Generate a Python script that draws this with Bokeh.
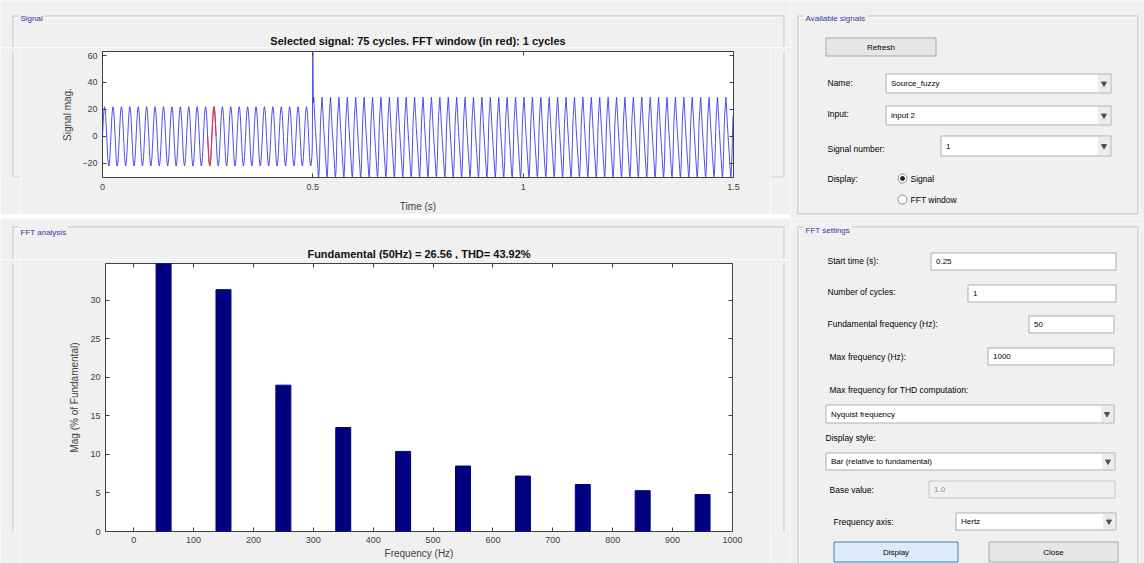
import numpy as np
from bokeh.plotting import figure
from bokeh.models import (Range1d, LinearAxis, FixedTicker, NumeralTickFormatter,
                          ColumnDataSource)
from bokeh.layouts import row, column
from bokeh.embed import file_html
from bokeh.resources import INLINE
from bokeh.core.properties import value

# ---------------- data ----------------
# one 50 Hz cycle (20 ms) of the signal before the step, equally spaced samples
pre_cycle = [0, 8.4, 15.6, 20.3, 22, 20.3, 15.6, 8.4, 0, -8.4, -15.6, -20.3, -22, -20.3, -15.6, -8.4]
pre_cycles = 25
fault_spike = 62
# one cycle of the distorted signal after 0.5 s (slow fall, steep rise)
post_cycle = [20, 25, 29, 24, 18, 12, 6, 1, -4, -9, -14, -19, -24, -29, -30, -26, -18, -5, 8, 15]
post_cycles = 50
cycle_period = 0.02
fft_window = (0.25, 0.27)

sig_xticks = [0, 0.5, 1, 1.5]
sig_yticks = [-20, 0, 20, 40, 60]

harm_freq = [50, 150, 250, 350, 450, 550, 650, 750, 850, 950]
harm_mag = [100, 31.4, 19.0, 13.5, 10.4, 8.5, 7.2, 6.1, 5.3, 4.8]
fft_xticks = [0, 100, 200, 300, 400, 500, 600, 700, 800, 900, 1000]
fft_yticks = [0, 5, 10, 15, 20, 25, 30]

sig_title = "Selected signal: 75 cycles. FFT window (in red): 1 cycles"
fft_title = "Fundamental (50Hz) = 26.56 , THD= 43.92%"
panel_titles = ["Signal", "FFT analysis", "Available signals", "FFT settings"]

avail_labels = ["Name:", "Input:", "Signal number:", "Display:"]
avail_values = ["Source_fuzzy", "input 2", "1"]
radio_options = ["Signal", "FFT window"]

settings_labels = ["Start time (s):", "Number of cycles:", "Fundamental frequency (Hz):",
                   "Max frequency (Hz):", "Max frequency for THD computation:",
                   "Display style:", "Base value:", "Frequency axis:"]
settings_values = ["0.25", "1", "50", "1000", "Nyquist frequency",
                   "Bar (relative to fundamental)", "1.0", "Hertz"]
buttons = ["Refresh", "Display", "Close"]

# ---------------- build signal arrays ----------------
t_list, v_list = [], []
for c in range(pre_cycles):
    for k, v in enumerate(pre_cycle):
        t_list.append(c * cycle_period + k * cycle_period / len(pre_cycle))
        v_list.append(v)
t0 = pre_cycles * cycle_period
t_list.append(t0)
v_list.append(fault_spike)
for c in range(post_cycles):
    for k, v in enumerate(post_cycle):
        if c == 0 and k == 0:
            continue
        t_list.append(t0 + c * cycle_period + k * cycle_period / len(post_cycle))
        v_list.append(v)
t_arr = np.array(t_list)
v_arr = np.array(v_list)
sel = (t_arr >= fft_window[0] - 1e-9) & (t_arr <= fft_window[1] + 1e-9)

FONT = "Liberation Sans"
BG = "#f0f0f0"
AX = "#404040"
PANEL_TXT = "#3535a5"

# panel frames (page pixels): left, top, right, bottom
PANELS = [(12.5, 15.5, 783.5, 213.5), (12.5, 226.5, 783.5, 700),
          (797.5, 15.5, 1137.5, 213.5), (797.5, 226.5, 1137.5, 700)]


def window_fig(x0, y0, w, h):
    """A piece of the dialog drawn in page-pixel coordinates."""
    p = figure(width=w, height=h, x_range=Range1d(x0, x0 + w), y_range=Range1d(y0 + h, y0),
               output_backend="svg", toolbar_location=None, min_border=0,
               x_axis_location=None, y_axis_location=None,
               background_fill_color=BG, border_fill_color=BG, outline_line_color=None)
    p.xgrid.visible = False
    p.ygrid.visible = False
    for (l, t, r, b) in PANELS:
        p.quad(left=[l + 1], right=[r + 1], top=[t + 1], bottom=[b + 1], fill_alpha=0,
               line_color="white", line_width=1)
        p.quad(left=[l], right=[r], top=[t], bottom=[b], fill_alpha=0,
               line_color="#c2c2c2", line_width=1)
    return p


def texts(p, xs, ys, ts, color="black", align="left", size="8.5px", style="normal", bg=None):
    kw = {}
    if bg is not None:
        kw = dict(background_fill_color=bg, padding=2)
    p.text(x=xs, y=ys, text=ts, text_font=value(FONT), text_font_size=size,
           text_color=color, text_align=align, text_baseline="middle",
           text_font_style=style, **kw)


def panel_title(p, x, y, t):
    texts(p, [x], [y], [t], color=PANEL_TXT, size="8px", bg=BG)


def style_axis(ax, ticks, show_labels=True, fmt=None, standoff=5):
    ax.ticker = FixedTicker(ticks=ticks)
    ax.major_tick_in = 4
    ax.major_tick_out = 0
    ax.minor_tick_line_color = None
    ax.axis_line_color = None
    ax.major_tick_line_color = AX
    ax.major_label_text_font = FONT
    if show_labels:
        ax.major_label_text_font_size = "9px"
        ax.major_label_text_color = AX
        ax.major_label_standoff = standoff
    else:
        ax.major_label_text_font_size = "0px"
        ax.major_label_text_color = None
        ax.major_label_standoff = 0
    if fmt is not None:
        ax.formatter = fmt


def axis_label(ax, text, standoff):
    ax.axis_label = text
    ax.axis_label_text_font = FONT
    ax.axis_label_text_font_size = "10px"
    ax.axis_label_text_font_style = "normal"
    ax.axis_label_text_color = AX
    ax.axis_label_standoff = standoff


def plot_fig(W, H, fl, ft, fw, fh, xr, yr):
    p = figure(width=W, height=H, x_range=Range1d(*xr), y_range=Range1d(*yr),
               output_backend="svg", toolbar_location=None,
               min_border_left=fl, min_border_right=W - fl - fw,
               min_border_top=ft, min_border_bottom=H - ft - fh,
               background_fill_color="white", border_fill_color=BG,
               outline_line_color=AX)
    p.xgrid.visible = False
    p.ygrid.visible = False
    return p


def add_mirror_axes(p, xticks, yticks):
    top_ax = LinearAxis()
    style_axis(top_ax, xticks, show_labels=False)
    p.add_layout(top_ax, "above")
    right_ax = LinearAxis()
    style_axis(right_ax, yticks, show_labels=False)
    p.add_layout(right_ax, "right")


# ================= top-left: Signal panel =================
s_top = window_fig(0, 0, 790, 47)
panel_title(s_top, 18, 18, panel_titles[0])
texts(s_top, [417.5], [40], [sig_title], color="#111111", align="center", size="11px", style="bold")
s_left = window_fig(0, 47, 20, 167)
s_right = window_fig(770, 47, 20, 167)
s_bot = window_fig(0, 214, 790, 4)

ps = plot_fig(750, 167, 82, 4, 631, 126, (0, 1.5), (-30.5, 63))
style_axis(ps.xaxis[0], sig_xticks, fmt=NumeralTickFormatter(format="0.[0]"), standoff=6)
style_axis(ps.yaxis[0], sig_yticks)
axis_label(ps.xaxis[0], "Time (s)", 8)
axis_label(ps.yaxis[0], "Signal mag.", 6)
add_mirror_axes(ps, sig_xticks, sig_yticks)
src = ColumnDataSource(dict(t=t_arr, v=v_arr))
ps.line("t", "v", source=src, line_color="#3030f0", line_width=1, line_alpha=0.85)
ps.line(t_arr[sel], v_arr[sel], line_color="#f03030", line_width=1)

# ================= bottom-left: FFT analysis panel =================
f_top = window_fig(0, 218, 790, 41)
panel_title(f_top, 18, 232, panel_titles[1])
texts(f_top, [418.5], [253], [fft_title], color="#111111", align="center", size="11px", style="bold")
f_left = window_fig(0, 259, 20, 304)
f_right = window_fig(770, 259, 20, 304)

pf = plot_fig(750, 304, 85, 4, 627, 268, (-47, 1000), (0, 34.8))
style_axis(pf.xaxis[0], fft_xticks)
style_axis(pf.yaxis[0], fft_yticks)
axis_label(pf.xaxis[0], "Frequency (Hz)", 2)
axis_label(pf.yaxis[0], "Mag (% of Fundamental)", 7)
add_mirror_axes(pf, fft_xticks, fft_yticks)
fsrc = ColumnDataSource(dict(f=harm_freq, m=harm_mag))
pf.vbar(x="f", top="m", width=25, source=fsrc, fill_color="#000080", line_color="#000080")


# ================= GUI controls =================
def edit_boxes(p, boxes, vals, disabled=False):
    p.quad(left=[b[0] for b in boxes], right=[b[2] for b in boxes],
           top=[b[1] for b in boxes], bottom=[b[3] for b in boxes],
           fill_color=BG if disabled else "white",
           line_color="#c8c8c8" if disabled else "#abadb3", line_width=1)
    texts(p, [b[0] + 5 for b in boxes], [(b[1] + b[3]) / 2 for b in boxes], vals,
          color="#8a8a8a" if disabled else "black", size="8px")


def popups(p, boxes, vals):
    edit_boxes(p, boxes, vals)
    p.quad(left=[b[2] - 13 for b in boxes], right=[b[2] - 1 for b in boxes],
           top=[b[1] + 1 for b in boxes], bottom=[b[3] - 1 for b in boxes],
           fill_color="#ececec", line_color=None)
    p.scatter(x=[b[2] - 7 for b in boxes], y=[(b[1] + b[3]) / 2 for b in boxes],
              marker="inverted_triangle", size=5, fill_color="#505050", line_color="#505050")


def push_buttons(p, boxes, vals, colors, borders):
    p.quad(left=[b[0] for b in boxes], right=[b[2] for b in boxes],
           top=[b[1] for b in boxes], bottom=[b[3] for b in boxes],
           fill_color=colors, line_color=borders, line_width=1)
    texts(p, [(b[0] + b[2]) / 2 for b in boxes], [(b[1] + b[3]) / 2 for b in boxes], vals,
          align="center", size="8px")


# top-right: Available signals
pa = window_fig(790, 0, 354, 218)
panel_title(pa, 803, 18, panel_titles[2])
push_buttons(pa, [(825.5, 37.5, 935.5, 55.5)], [buttons[0]], ["#e6e6e6"], ["#a8a8a8"])
texts(pa, [827, 827, 827, 827], [82, 113, 148, 178], avail_labels)
popups(pa, [(885.5, 73.5, 1110.5, 92.5), (885.5, 105.5, 1110.5, 124.5), (940.5, 135.5, 1110.5, 155.5)],
       avail_values)
pa.scatter(x=[902, 902], y=[178, 199], marker="circle", size=9, fill_color="white",
           line_color="#8a8a8a")
pa.scatter(x=[902], y=[178], marker="circle", size=4, fill_color="#202020", line_color="#202020")
texts(pa, [910, 910], [178, 199], radio_options)

# bottom-right: FFT settings
pb = window_fig(790, 218, 354, 345)
panel_title(pb, 803, 230, panel_titles[3])
texts(pb, [827, 827, 827, 829, 829, 825, 829, 833], [260, 291, 323, 356, 389, 437, 489, 521],
      settings_labels)
edit_boxes(pb, [(930.5, 252.5, 1115.5, 269.5), (967.5, 284.5, 1115.5, 301.5),
                (1028.5, 315.5, 1113.5, 332.5), (987.5, 347.5, 1113.5, 364.5)],
           settings_values[0:4])
popups(pb, [(825.5, 404.5, 1113.5, 422.5), (825.5, 452.5, 1114.5, 469.5)], settings_values[4:6])
edit_boxes(pb, [(928.5, 480.5, 1114.5, 497.5)], [settings_values[6]], disabled=True)
popups(pb, [(955.5, 512.5, 1115.5, 529.5)], [settings_values[7]])
push_buttons(pb, [(833.5, 541.5, 957.5, 561.5), (988.5, 541.5, 1117.5, 561.5)], buttons[1:3],
             ["#dcebf9", "#e6e6e6"], ["#3c7fb1", "#a8a8a8"])

left = column(s_top, row(s_left, ps, s_right), s_bot,
              f_top, row(f_left, pf, f_right))
layout = row(left, column(pa, pb))
open("out.html", "w").write(file_html(layout, INLINE))
